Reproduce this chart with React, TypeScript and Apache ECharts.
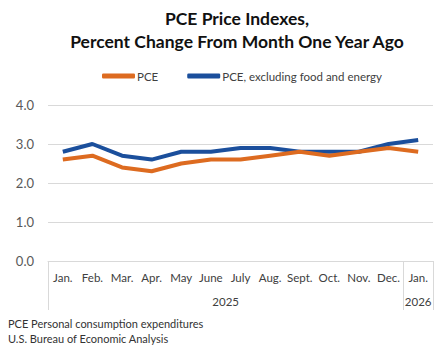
import React, { useEffect, useRef } from "react";
import * as echarts from "echarts";

const months = ["Jan.", "Feb.", "Mar.", "Apr.", "May", "June", "July", "Aug.", "Sept.", "Oct.", "Nov.", "Dec.", "Jan."];
const pce = [2.6, 2.7, 2.4, 2.3, 2.5, 2.6, 2.6, 2.7, 2.8, 2.7, 2.8, 2.9, 2.8];
const core = [2.8, 3.0, 2.7, 2.6, 2.8, 2.8, 2.9, 2.9, 2.8, 2.8, 2.8, 3.0, 3.1];
const years = ["2025", "2026"];
const yearCenters = [6, 12.5];
const yearBounds = [0, 12, 13];
const yTicks = { min: 0, max: 4, interval: 1 };

const FONT = "Lato, 'Open Sans', sans-serif";

export default function App() {
  const ref = useRef<HTMLDivElement>(null);
  useEffect(() => {
    const chart = echarts.init(ref.current!, null, { renderer: "svg" });
    chart.setOption({
      animation: false,
      backgroundColor: "#ffffff",
      textStyle: { fontFamily: FONT },
      title: {
        text: "PCE Price Indexes,\nPercent Change From Month One Year Ago",
        left: 232,
        textAlign: "center",
        top: 2,
        textStyle: { fontSize: 17.5, fontWeight: "bold", color: "#111111", lineHeight: 23, fontFamily: FONT },
      },
      legend: {
        left: 97,
        top: 65,
        itemWidth: 33,
        itemHeight: 5,
        itemGap: 29,
        icon: "roundRect",
        textStyle: { fontSize: 11.5, color: "#404040", padding: [0, 0, 0, -3] },
        data: ["PCE", "PCE, excluding food and energy"],
      },
      grid: { left: 48, right: 14, top: 105, bottom: 87, containLabel: false },
      xAxis: [
        {
          type: "category",
          data: months,
          boundaryGap: true,
          axisLine: { show: true, lineStyle: { color: "#d9d9d9", width: 1 } },
          axisTick: { show: false },
          axisLabel: { interval: 0, margin: 10, fontSize: 11.5, color: "#404040" },
        },
        {
          type: "value",
          min: 0,
          max: 13,
          position: "bottom",
          axisLine: { show: false },
          splitLine: { show: false },
          axisTick: { show: true, length: 49, customValues: yearBounds, lineStyle: { color: "#d9d9d9" } },
          axisLabel: {
            margin: 34,
            fontSize: 11.5,
            color: "#404040",
            customValues: yearCenters,
            formatter: (v: number) => {
              const i = yearCenters.indexOf(v);
              return i >= 0 ? years[i] : "";
            },
          },
        },
      ],
      yAxis: {
        type: "value",
        min: yTicks.min,
        max: yTicks.max,
        interval: yTicks.interval,
        axisLine: { show: false },
        axisTick: { show: false },
        splitLine: { lineStyle: { color: "#d9d9d9" } },
        axisLabel: { margin: 14, fontSize: 13, color: "#595959", formatter: (v: number) => v.toFixed(1) },
      },
      series: [
        {
          name: "PCE",
          type: "line",
          data: pce,
          showSymbol: false,
          symbol: "none",
          lineStyle: { width: 4, color: "#DD6B20" },
          itemStyle: { color: "#DD6B20" },
          z: 3,
        },
        {
          name: "PCE, excluding food and energy",
          type: "line",
          data: core,
          showSymbol: false,
          symbol: "none",
          lineStyle: { width: 4, color: "#1B4F9C" },
          itemStyle: { color: "#1B4F9C" },
          z: 2,
        },
      ],
      graphic: [
        { type: "text", left: 8, top: 318, style: { text: "PCE Personal consumption expenditures", fontSize: 11, fill: "#333333", fontFamily: FONT } },
        { type: "text", left: 8, top: 333, style: { text: "U.S. Bureau of Economic Analysis", fontSize: 11, fill: "#333333", fontFamily: FONT } },
      ],
    });
    return () => chart.dispose();
  }, []);
  return <div ref={ref} style={{ width: 447, height: 348, position: "absolute", left: 0, top: 0 }} />;
}
